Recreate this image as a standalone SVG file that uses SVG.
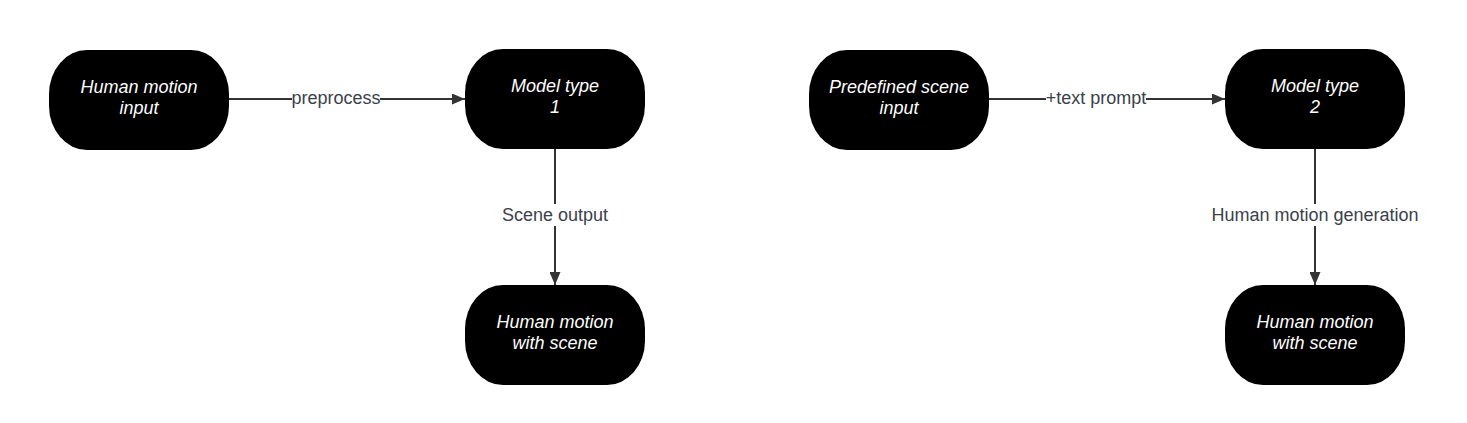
<svg xmlns="http://www.w3.org/2000/svg" width="1467" height="423" viewBox="0 0 1467 423">
<defs>
<marker id="arr" viewBox="0 0 13 11" refX="13" refY="5.5" markerWidth="13" markerHeight="11" markerUnits="userSpaceOnUse" orient="auto">
<path d="M0,0 L13,5.5 L0,11 Z" fill="#333333"/>
</marker>
<style>
.node{fill:#000000;}
.nt{font-family:"Liberation Sans",Arial,sans-serif;font-size:18px;font-style:italic;fill:#ffffff;text-anchor:middle;}
.edge{stroke:#333333;stroke-width:2;fill:none;marker-end:url(#arr);}
.lbg{fill:#ffffff;}
.lt{font-family:"Liberation Sans",Arial,sans-serif;font-size:18px;fill:#3a414a;text-anchor:middle;}
</style>
</defs>
<rect width="1467" height="423" fill="#ffffff"/>
<g id="connectors">
<path class="edge" d="M229,99 L465,99"/>
<path class="edge" d="M555,149 L555,285"/>
<path class="edge" d="M989,99 L1225,99"/>
<path class="edge" d="M1315,149 L1315,285"/>
<rect class="lbg" x="292" y="89" width="88" height="18"/>
<text class="lt" x="336" y="104">preprocess</text>
<rect class="lbg" x="500" y="204" width="110" height="22"/>
<text class="lt" x="555" y="221">Scene output</text>
<rect class="lbg" x="1046" y="89" width="100" height="18"/>
<text class="lt" x="1096" y="104">+text prompt</text>
<rect class="lbg" x="1210" y="204" width="210" height="22"/>
<text class="lt" x="1315" y="221">Human motion generation</text>
</g>
<g id="n1">
<rect class="node" x="49" y="50" width="180" height="100" rx="38" ry="44"/>
<text class="nt" x="139" y="93">Human motion</text>
<text class="nt" x="139" y="114">input</text>
</g>
<g id="n2">
<rect class="node" x="465" y="49" width="180" height="100" rx="38" ry="44"/>
<text class="nt" x="555" y="92">Model type</text>
<text class="nt" x="555" y="113">1</text>
</g>
<g id="n3">
<rect class="node" x="465" y="285" width="180" height="100" rx="38" ry="44"/>
<text class="nt" x="555" y="328">Human motion</text>
<text class="nt" x="555" y="349">with scene</text>
</g>
<g id="n4">
<rect class="node" x="809" y="50" width="180" height="100" rx="38" ry="44"/>
<text class="nt" x="899" y="93">Predefined scene</text>
<text class="nt" x="899" y="114">input</text>
</g>
<g id="n5">
<rect class="node" x="1225" y="49" width="180" height="100" rx="38" ry="44"/>
<text class="nt" x="1315" y="92">Model type</text>
<text class="nt" x="1315" y="113">2</text>
</g>
<g id="n6">
<rect class="node" x="1225" y="285" width="180" height="100" rx="38" ry="44"/>
<text class="nt" x="1315" y="328">Human motion</text>
<text class="nt" x="1315" y="349">with scene</text>
</g>
</svg>
